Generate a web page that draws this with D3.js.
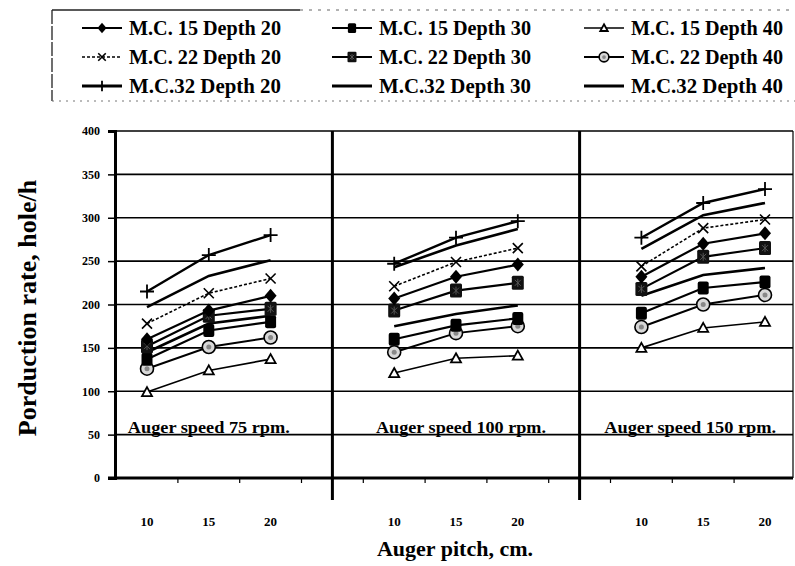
<!DOCTYPE html>
<html>
<head>
<meta charset="utf-8">
<script src="https://cdn.jsdelivr.net/npm/d3@7"></script>
<style>
  html, body { margin: 0; padding: 0; background: #fff; }
  svg { display: block; }
  text { font-family: "Liberation Serif", "DejaVu Serif", serif; font-weight: bold; fill: #000; }
</style>
</head>
<body>
<svg id="chart" width="795" height="566"></svg>
<script>
// ---------------- data ----------------
const speeds = ["75", "100", "150"];
const pitches = ["10", "15", "20"];
const yTicks = [0, 50, 100, 150, 200, 250, 300, 350, 400];
const panelLabels = ["Auger speed 75 rpm.", "Auger speed 100 rpm.", "Auger speed 150 rpm."];

// values: [75rpm: p10,p15,p20, 100rpm: p10,p15,p20, 150rpm: p10,p15,p20]
const mc15d20 = [160, 193, 210, 207, 232, 246, 232, 270, 282];
const mc15d30 = [137, 170, 180, 160, 176, 184, 190, 219, 226];
const mc15d40 = [99, 124, 137, 121, 138, 141, 150, 173, 180];
const mc22d20 = [178, 213, 230, 221, 249, 265, 244, 288, 298];
const mc22d30 = [152, 187, 195, 193, 216, 225, 218, 255, 265];
const mc22d40 = [126, 151, 162, 145, 167, 175, 174, 200, 211];
const mc32d20 = [215, 257, 280, 247, 277, 296, 277, 317, 333];
const mc32d30 = [197, 233, 251, 243, 268, 287, 264, 303, 317];
const mc32d40 = [145, 178, 187, 175, 189, 199, 210, 234, 242];

const seriesNames = [
  "M.C. 15 Depth 20", "M.C. 15 Depth 30", "M.C. 15 Depth 40",
  "M.C. 22 Depth 20", "M.C. 22 Depth 30", "M.C. 22 Depth 40",
  "M.C.32 Depth 20", "M.C.32 Depth 30", "M.C.32 Depth 40"
];
const seriesValues = [mc15d20, mc15d30, mc15d40, mc22d20, mc22d30, mc22d40, mc32d20, mc32d30, mc32d40];
const seriesMarkers = ["diamond", "square", "triangle", "x", "squarestar", "circle", "plus", "none", "none"];

// ---------------- layout ----------------
const svg = d3.select("#chart");
const plotLeft = 115, plotRight = 793, plotTop = 131, plotBottom = 478;

const cats = [];
speeds.forEach((s, i) => {
  pitches.forEach(p => cats.push(s + "|" + p));
  if (i < speeds.length - 1) cats.push("gap" + i);
});
const x = d3.scalePoint().domain(cats).range([147, 765]);
const y = d3.scaleLinear().domain([0, 400]).range([plotBottom, plotTop]);

const styles = {
  diamond:    { w: 2.2, dash: null },
  square:     { w: 2.2, dash: null },
  triangle:   { w: 1.6, dash: null },
  x:          { w: 1.6, dash: "3,2" },
  squarestar: { w: 2.2, dash: null },
  circle:     { w: 2.0, dash: null },
  plus:       { w: 2.4, dash: null },
  none:       { w: 2.6, dash: null }
};

// ---------------- grid & frame ----------------
svg.selectAll(".grid").data(yTicks.filter(t => t > 0)).enter().append("line")
  .attr("x1", plotLeft).attr("x2", plotRight)
  .attr("y1", d => y(d)).attr("y2", d => y(d))
  .attr("stroke", "#000").attr("stroke-width", 1.6);

const yAxis = d3.axisLeft(y).tickValues(yTicks).tickSize(7).tickPadding(8).tickFormat(d3.format("d"));
const ya = svg.append("g").attr("transform", `translate(${plotLeft},0)`).call(yAxis);
ya.select(".domain").attr("stroke", "#000").attr("stroke-width", 3);
ya.selectAll(".tick line").attr("stroke", "#000").attr("stroke-width", 1.5);
ya.selectAll(".tick text").style("font-family", "'Liberation Serif', serif").style("font-weight", "bold").style("font-size", "12px");

svg.append("line").attr("x1", plotLeft - 7).attr("x2", plotRight)
  .attr("y1", plotBottom).attr("y2", plotBottom).attr("stroke", "#000").attr("stroke-width", 3);

const step = x.step();
svg.selectAll(".xtick").data(cats.slice(0, -1)).enter().append("line")
  .attr("x1", d => x(d) + step / 2).attr("x2", d => x(d) + step / 2)
  .attr("y1", plotBottom).attr("y2", plotBottom + 5)
  .attr("stroke", "#000").attr("stroke-width", 1.2);

svg.selectAll(".divider").data(cats.filter(c => c.startsWith("gap"))).enter().append("line")
  .attr("x1", d => x(d)).attr("x2", d => x(d))
  .attr("y1", plotTop).attr("y2", plotBottom + 22)
  .attr("stroke", "#000").attr("stroke-width", 3);
svg.append("line").attr("x1", plotRight).attr("x2", plotRight)
  .attr("y1", plotTop).attr("y2", plotBottom).attr("stroke", "#000").attr("stroke-width", 1.2);

svg.selectAll(".xlab").data(cats.filter(c => !c.startsWith("gap"))).enter().append("text")
  .attr("x", d => x(d)).attr("y", 526)
  .attr("text-anchor", "middle").style("font-size", "13px")
  .text(d => d.split("|")[1]);

const labelDx = [0, 5, -13];
const labelLen = [162, 170, 172];
speeds.forEach((s, i) => {
  const cx = x(s + "|15") + labelDx[i];
  svg.append("text").attr("x", cx).attr("y", y(50) - 2)
    .attr("text-anchor", "middle").style("font-size", "16px")
    .attr("textLength", labelLen[i]).attr("lengthAdjust", "spacingAndGlyphs")
    .text(panelLabels[i]);
});

// ---------------- series ----------------
function drawMarker(sel, type, s) {
  s = s || 1;
  if (type === "diamond") {
    sel.append("path").attr("d", `M0,${-7*s}L${6*s},0L0,${7*s}L${-6*s},0Z`).attr("fill", "#000");
  } else if (type === "square") {
    sel.append("rect").attr("x", -5.5*s).attr("y", -6.5*s).attr("width", 11*s).attr("height", 13*s)
      .attr("rx", 2*s).attr("fill", "#000");
  } else if (type === "squarestar") {
    sel.append("rect").attr("x", -6*s).attr("y", -7*s).attr("width", 12*s).attr("height", 14*s)
      .attr("rx", 1.5*s).attr("fill", "#111");
    sel.append("path").attr("d", `M${-3*s},${-3*s}L${3*s},${3*s}M${3*s},${-3*s}L${-3*s},${3*s}M0,${-4*s}L0,${4*s}`)
      .attr("stroke", "#555").attr("stroke-width", 1);
  } else if (type === "triangle") {
    sel.append("path").attr("d", `M0,${-5*s}L${5*s},${4*s}L${-5*s},${4*s}Z`).attr("fill", "#fff")
      .attr("stroke", "#000").attr("stroke-width", 1.8);
  } else if (type === "circle") {
    sel.append("circle").attr("r", 6.5*s).attr("fill", "#d8d8d8").attr("stroke", "#000").attr("stroke-width", 1.6);
    sel.append("circle").attr("r", 2.5*s).attr("fill", "#888");
  } else if (type === "x") {
    sel.append("path").attr("d", `M${-5*s},${-5*s}L${5*s},${5*s}M${5*s},${-5*s}L${-5*s},${5*s}`)
      .attr("stroke", "#000").attr("stroke-width", 1.6);
  } else if (type === "plus") {
    sel.append("path").attr("d", `M${-7*s},0L${7*s},0M0,${-7*s}L0,${7*s}`)
      .attr("stroke", "#000").attr("stroke-width", 1.8);
  }
}

const lineGen = d3.line().x(d => x(d.c)).y(d => y(d.v));
const drawOrder = [8, 7, 6, 2, 5, 1, 4, 3, 0];
drawOrder.forEach(si => {
  const vals = seriesValues[si];
  const mk = seriesMarkers[si];
  const st = styles[mk];
  speeds.forEach((s, pi) => {
    const pts = pitches.map((p, j) => ({ c: s + "|" + p, v: vals[pi * 3 + j] }));
    svg.append("path").datum(pts).attr("d", lineGen)
      .attr("fill", "none").attr("stroke", "#000").attr("stroke-width", st.w)
      .attr("stroke-dasharray", st.dash);
    pts.forEach(pt => {
      const mg = svg.append("g").attr("transform", `translate(${x(pt.c)},${y(pt.v)})`);
      drawMarker(mg, mk, 1);
    });
  });
});

// ---------------- axis titles ----------------
svg.append("text").attr("x", 455).attr("y", 556).attr("text-anchor", "middle")
  .style("font-size", "22px").text("Auger pitch, cm.");
svg.append("text").attr("transform", "translate(36,308) rotate(-90)").attr("text-anchor", "middle")
  .style("font-size", "26px").text("Porduction rate, hole/h");

// ---------------- legend ----------------
const legX = 52, legY = 10, legB = 101;
svg.append("line").attr("x1", legX).attr("x2", 300).attr("y1", legY).attr("y2", legY)
  .attr("stroke", "#222").attr("stroke-width", 1.5);
svg.append("line").attr("x1", 300).attr("x2", 795).attr("y1", legY).attr("y2", legY)
  .attr("stroke", "#666").attr("stroke-width", 1.2).attr("stroke-dasharray", "3,6");
svg.append("line").attr("x1", legX).attr("x2", legX).attr("y1", legY).attr("y2", legB)
  .attr("stroke", "#222").attr("stroke-width", 1.3).attr("stroke-dasharray", "14,2");
svg.append("line").attr("x1", legX).attr("x2", 795).attr("y1", legB).attr("y2", legB)
  .attr("stroke", "#777").attr("stroke-width", 1).attr("stroke-dasharray", "2,5");

const colX = [82, 332, 584];
const rowY = [28, 57, 86];
seriesNames.forEach((name, i) => {
  const col = i % 3, row = Math.floor(i / 3);
  const lg = svg.append("g").attr("transform", `translate(${colX[col]},${rowY[row]})`);
  const mk = seriesMarkers[i];
  const st = styles[mk];
  lg.append("line").attr("x1", 0).attr("x2", 40).attr("y1", 0).attr("y2", 0)
    .attr("stroke", "#000").attr("stroke-width", mk === "none" || mk === "plus" ? 3 : st.w)
    .attr("stroke-dasharray", st.dash);
  const m = lg.append("g").attr("transform", "translate(20,0)");
  drawMarker(m, mk, 0.75);
  lg.append("text").attr("x", 47).attr("y", 7).style("font-size", "20px")
    .attr("textLength", 152).attr("lengthAdjust", "spacingAndGlyphs").text(name);
});
</script>
</body>
</html>
